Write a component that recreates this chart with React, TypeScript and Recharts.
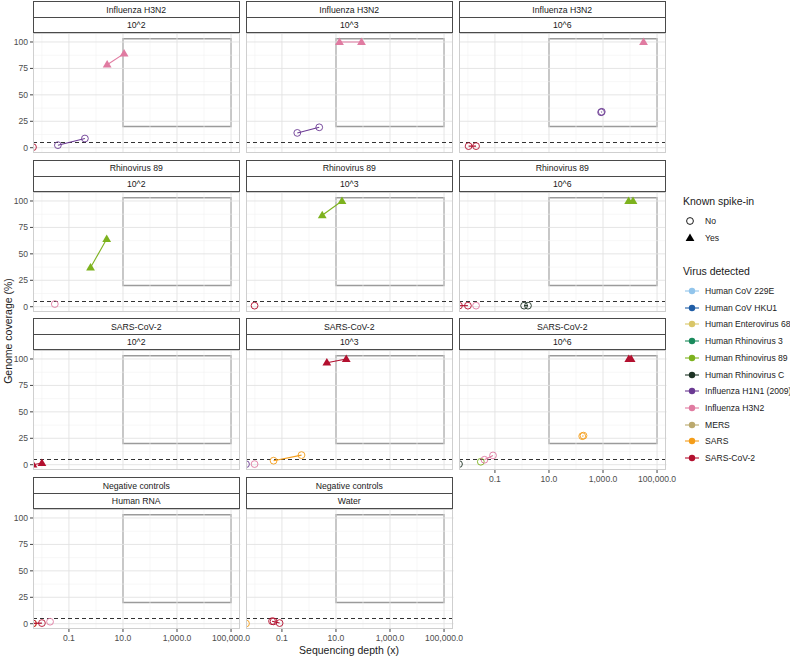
import React from "react";
import {
  ScatterChart,
  Scatter,
  XAxis,
  YAxis,
  ReferenceLine,
  ReferenceArea,
} from "recharts";

const FONT = "'Liberation Sans', Arial, sans-serif";

const VIRUSES = [
  "Human CoV 229E",
  "Human CoV HKU1",
  "Human Enterovirus 68",
  "Human Rhinovirus 3",
  "Human Rhinovirus 89",
  "Human Rhinovirus C",
  "Influenza H1N1 (2009)",
  "Influenza H3N2",
  "MERS",
  "SARS",
  "SARS-CoV-2",
];

const VIRUS_COLORS = [
  "#92c5ec",
  "#1f5da6",
  "#d9c668",
  "#1a8a5c",
  "#7db21e",
  "#1e3325",
  "#6b3a93",
  "#e07ba1",
  "#bba96e",
  "#f49d1a",
  "#b3102f",
];

const PANEL_TITLES = [
  "Influenza H3N2", "Influenza H3N2", "Influenza H3N2",
  "Rhinovirus 89", "Rhinovirus 89", "Rhinovirus 89",
  "SARS-CoV-2", "SARS-CoV-2", "SARS-CoV-2",
  "Negative controls", "Negative controls",
];

const PANEL_DOSES = [
  "10^2", "10^3", "10^6",
  "10^2", "10^3", "10^6",
  "10^2", "10^3", "10^6",
  "Human RNA", "Water",
];

type Track = { virus: string; spike: boolean; depth: number[]; coverage: number[] };

// depth 0 is drawn at the panel's left edge (as -Inf on a log axis)
const H3N2_E2: Track[] = [
  { virus: "Influenza H3N2", spike: true, depth: [2.6, 11], coverage: [78.5, 89] },
  { virus: "Influenza H1N1 (2009)", spike: false, depth: [0.039, 0.39], coverage: [2.4, 8.7] },
  { virus: "SARS-CoV-2", spike: false, depth: [0], coverage: [0.5] },
];
const H3N2_E3: Track[] = [
  { virus: "Influenza H3N2", spike: true, depth: [13.5, 88], coverage: [100, 100] },
  { virus: "Influenza H1N1 (2009)", spike: false, depth: [0.37, 2.4], coverage: [14, 19.3] },
];
const H3N2_E6: Track[] = [
  { virus: "Influenza H3N2", spike: true, depth: [31600], coverage: [100] },
  { virus: "Influenza H1N1 (2009)", spike: false, depth: [850, 900], coverage: [33.5, 34] },
  { virus: "SARS-CoV-2", spike: false, depth: [0.0106, 0.02], coverage: [1.5, 1.5] },
];
const RV89_E2: Track[] = [
  { virus: "Human Rhinovirus 89", spike: true, depth: [0.63, 2.5], coverage: [37, 64] },
  { virus: "Influenza H3N2", spike: false, depth: [0.03], coverage: [2.5] },
];
const RV89_E3: Track[] = [
  { virus: "Human Rhinovirus 89", spike: true, depth: [3.1, 16.7], coverage: [86.5, 100] },
  { virus: "SARS-CoV-2", spike: false, depth: [0.0097], coverage: [1] },
];
const RV89_E6: Track[] = [
  { virus: "Human Rhinovirus 89", spike: true, depth: [8900, 12900], coverage: [100, 100] },
  { virus: "SARS-CoV-2", spike: false, depth: [0, 0.01], coverage: [1, 1] },
  { virus: "Influenza H3N2", spike: false, depth: [0.02], coverage: [1] },
  { virus: "Human Rhinovirus C", spike: false, depth: [1.2, 1.67], coverage: [1, 1] },
];
const COV2_E2: Track[] = [
  { virus: "SARS-CoV-2", spike: true, depth: [0, 0.01], coverage: [0, 1.6] },
];
const COV2_E3: Track[] = [
  { virus: "SARS-CoV-2", spike: true, depth: [4.6, 24], coverage: [96.5, 100] },
  { virus: "SARS", spike: false, depth: [0.049, 0.53], coverage: [3.8, 9.1] },
  { virus: "Influenza H1N1 (2009)", spike: false, depth: [0], coverage: [0.5] },
  { virus: "Influenza H3N2", spike: false, depth: [0.0097], coverage: [0.6] },
];
const COV2_E6: Track[] = [
  { virus: "SARS-CoV-2", spike: true, depth: [9000, 11000], coverage: [100, 100] },
  { virus: "SARS", spike: false, depth: [170, 190], coverage: [27, 27.5] },
  { virus: "Human Rhinovirus 89", spike: false, depth: [0.03], coverage: [2.8] },
  { virus: "Influenza H3N2", spike: false, depth: [0.041, 0.085], coverage: [4.7, 8.8] },
  { virus: "Human Rhinovirus C", spike: false, depth: [0], coverage: [0.6] },
];
const NEG_HUMAN: Track[] = [
  { virus: "SARS", spike: false, depth: [0], coverage: [0.2] },
  { virus: "SARS-CoV-2", spike: false, depth: [0, 0.01], coverage: [0.3, 0.6] },
  { virus: "Influenza H3N2", spike: false, depth: [0.02], coverage: [1.9] },
];
const NEG_WATER: Track[] = [
  { virus: "SARS", spike: false, depth: [0], coverage: [0.2] },
  { virus: "SARS-CoV-2", spike: false, depth: [0.043, 0.082], coverage: [2.4, 0.6] },
  { virus: "SARS-CoV-2", spike: false, depth: [0.049], coverage: [2.2] },
];

const PANEL_TRACKS = [
  H3N2_E2, H3N2_E3, H3N2_E6,
  RV89_E2, RV89_E3, RV89_E6,
  COV2_E2, COV2_E3, COV2_E6,
  NEG_HUMAN, NEG_WATER,
];

const X_TICKS = [0.1, 10, 1000, 100000];
const X_MINOR = [0.01, 1, 100, 10000];
const Y_TICKS = [0, 25, 50, 75, 100];
const Y_MINOR = [12.5, 37.5, 62.5, 87.5];

const X_MIN = Math.pow(10, -2.33);
const X_MAX = Math.pow(10, 5.35);

// layout
const COL_LEFT = [32.5, 245.5, 458.5];
const ROW_TOP = [33, 191.7, 350.3, 509];
const PANEL_W = 207.5;
const PANEL_H = 120;
const STRIP_H = 16;
const TICK_FONT = 8.6;

const colorOf = (v: string) => VIRUS_COLORS[VIRUSES.indexOf(v)];

const fmtX = (v: number) =>
  v.toLocaleString("en-US", { minimumFractionDigits: 1, maximumFractionDigits: 1 });

function marker(color: string, spike: boolean) {
  return (p: any) => {
    const { cx, cy } = p;
    if (cx == null || cy == null) return <g />;
    if (spike) {
      return (
        <path
          d={`M${cx},${cy - 4.6} L${cx + 4.4},${cy + 2.9} L${cx - 4.4},${cy + 2.9} Z`}
          fill={color}
        />
      );
    }
    return <circle cx={cx} cy={cy} r={3.4} fill="none" stroke={color} strokeWidth={0.9} />;
  };
}

const stripStyle: React.CSSProperties = {
  position: "absolute",
  boxSizing: "border-box",
  border: "1px solid #4a4a4a",
  background: "#fff",
  fontSize: 8.7,
  color: "#1a1a1a",
  display: "flex",
  alignItems: "center",
  justifyContent: "center",
};

function Panel({ index }: { index: number }) {
  const row = Math.floor(index / 3);
  const col = index % 3;
  const left = COL_LEFT[col];
  const top = ROW_TOP[row];
  const showY = col === 0;
  const showX = index >= 8;
  const yW = showY ? 30 : 0;
  const xH = showX ? 20 : 0;
  const extraR = showX ? 30 : 0;
  const tracks = PANEL_TRACKS[index];

  return (
    <>
      <div style={{ ...stripStyle, left, top: top - 2 * STRIP_H, width: PANEL_W, height: STRIP_H + 1 }}>
        {PANEL_TITLES[index]}
      </div>
      <div style={{ ...stripStyle, left, top: top - STRIP_H, width: PANEL_W, height: STRIP_H }}>
        {PANEL_DOSES[index]}
      </div>
      <div style={{ position: "absolute", left: left - yW, top }}>
        <ScatterChart
          width={PANEL_W + yW + extraR}
          height={PANEL_H + xH}
          margin={{ top: 0, right: extraR, bottom: 0, left: 0 }}
          style={{ overflow: "visible" }}
        >
          <XAxis
            dataKey="x"
            type="number"
            scale="log"
            domain={[X_MIN, X_MAX]}
            allowDataOverflow
            ticks={X_TICKS}
            tickFormatter={fmtX}
            hide={!showX}
            height={xH || 1}
            axisLine={false}
            tickSize={3}
            tickMargin={2.5}
            tickLine={{ stroke: "#444" }}
            tick={{ fill: "#4d4d4d", fontSize: TICK_FONT, fontFamily: FONT }}
            interval={0}
          />
          <YAxis
            dataKey="y"
            type="number"
            domain={[-5, 108.5]}
            allowDataOverflow
            ticks={Y_TICKS}
            hide={!showY}
            width={yW || 1}
            axisLine={false}
            tickSize={3}
            tickMargin={2}
            tickLine={{ stroke: "#444" }}
            tick={{ fill: "#4d4d4d", fontSize: TICK_FONT, fontFamily: FONT }}
            interval={0}
          />
          {Y_MINOR.map((v) => (
            <ReferenceLine key={"ym" + v} y={v} stroke="#f2f2f2" strokeWidth={0.6} />
          ))}
          {X_MINOR.map((v) => (
            <ReferenceLine key={"xm" + v} x={v} stroke="#f2f2f2" strokeWidth={0.6} />
          ))}
          {Y_TICKS.map((v) => (
            <ReferenceLine key={"yM" + v} y={v} stroke="#e2e2e2" strokeWidth={0.9} />
          ))}
          {X_TICKS.map((v) => (
            <ReferenceLine key={"xM" + v} x={v} stroke="#e2e2e2" strokeWidth={0.9} />
          ))}
          <ReferenceArea
            x1={10}
            x2={100000}
            y1={20}
            y2={103}
            fill="none"
            fillOpacity={0}
            stroke="#9b9b9b"
            strokeWidth={1.5}
          />
          <ReferenceLine y={5} stroke="#333" strokeWidth={1.1} strokeDasharray="4 3" />
          {tracks.map((t, k) => {
            const color = colorOf(t.virus);
            const data = t.depth.map((d, j) => ({
              x: d === 0 ? X_MIN : d,
              y: t.coverage[j],
            }));
            return (
              <Scatter
                key={k}
                data={data}
                isAnimationActive={false}
                line={data.length > 1 ? { stroke: color, strokeWidth: 1.1 } : false}
                lineType="joint"
                shape={marker(color, t.spike)}
              />
            );
          })}
        </ScatterChart>
      </div>
      <div
        style={{
          position: "absolute",
          left,
          top,
          width: PANEL_W,
          height: PANEL_H,
          boxSizing: "border-box",
          border: "1px solid #cfcfcf",
          pointerEvents: "none",
        }}
      />
    </>
  );
}

function LegendBlock() {
  const legendLeft = 683;
  return (
    <div style={{ position: "absolute", left: legendLeft, top: 0, width: 107, height: 656, fontFamily: FONT, color: "#1a1a1a" }}>
      <div style={{ position: "absolute", top: 195, fontSize: 10.5, whiteSpace: "nowrap" }}>Known spike-in</div>
      {["No", "Yes"].map((s, i) => (
        <div key={s} style={{ position: "absolute", top: 214 + i * 16.7, height: 14, display: "flex", alignItems: "center" }}>
          <svg width={18} height={14}>
            {i === 0 ? (
              <circle cx={7} cy={7} r={3.4} fill="none" stroke="#000" strokeWidth={0.9} />
            ) : (
              <path d="M7,2.4 L11.4,9.9 L2.6,9.9 Z" fill="#000" />
            )}
          </svg>
          <span style={{ fontSize: TICK_FONT, marginLeft: 4 }}>{s}</span>
        </div>
      ))}
      <div style={{ position: "absolute", top: 265, fontSize: 10.5, whiteSpace: "nowrap" }}>Virus detected</div>
      {VIRUSES.map((v, i) => (
        <div
          key={v}
          style={{ position: "absolute", top: 284 + i * 16.7, height: 14, display: "flex", alignItems: "center", whiteSpace: "nowrap" }}
        >
          <svg width={18} height={14}>
            <line x1={2} x2={16} y1={7} y2={7} stroke={VIRUS_COLORS[i]} strokeWidth={1.1} />
            <circle cx={9} cy={7} r={3.2} fill={VIRUS_COLORS[i]} />
          </svg>
          <span style={{ fontSize: TICK_FONT, marginLeft: 4 }}>{v}</span>
        </div>
      ))}
    </div>
  );
}

export default function App() {
  return (
    <div
      style={{
        position: "absolute",
        left: 0,
        top: 0,
        width: 790,
        height: 656,
        background: "#fff",
        fontFamily: FONT,
        overflow: "hidden",
      }}
    >
      {PANEL_TITLES.map((_, i) => (
        <Panel key={i} index={i} />
      ))}
      <div
        style={{
          position: "absolute",
          left: 8,
          top: 331,
          transform: "translate(-50%, -50%) rotate(-90deg)",
          fontSize: 10.5,
          color: "#1a1a1a",
          whiteSpace: "nowrap",
        }}
      >
        Genome coverage (%)
      </div>
      <div
        style={{
          position: "absolute",
          left: 349,
          top: 650,
          transform: "translate(-50%, -50%)",
          fontSize: 10.5,
          color: "#1a1a1a",
          whiteSpace: "nowrap",
        }}
      >
        Sequencing depth (x)
      </div>
      <LegendBlock />
    </div>
  );
}
